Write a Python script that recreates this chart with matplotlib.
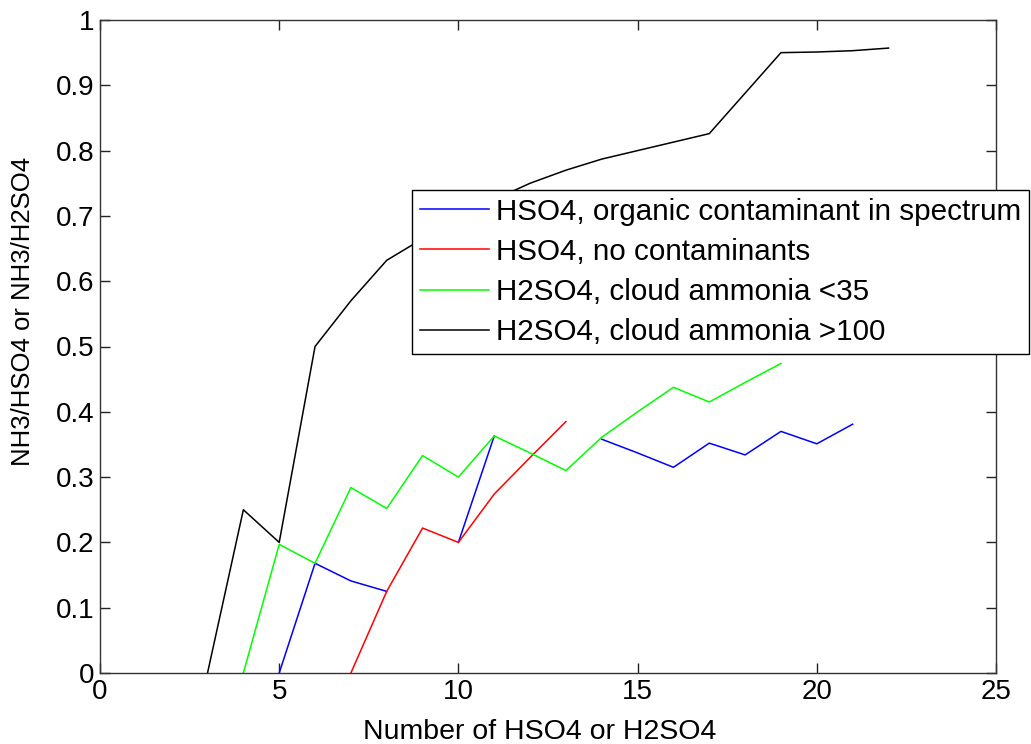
import numpy as np
import matplotlib
matplotlib.use('Agg')
import matplotlib.pyplot as plt

nan = np.nan

# data (nan where the line is hidden under another one)
x_blue = [5, 6, 7, 8, 9, 10, 11, 12, 13, 14, 15, 16, 17, 18, 19, 20, 21]
y_blue = [0, 0.168, 0.141, 0.125, nan, 0.20, 0.363, nan, nan, 0.358,
          0.337, 0.315, 0.352, 0.334, 0.37, 0.351, 0.381]

x_red = [7, 8, 9, 10, 11, 12, 13]
y_red = [0, 0.125, 0.222, 0.20, 0.274, 0.33, 0.385]

x_green = [4, 5, 6, 7, 8, 9, 10, 11, 12, 13, 14, 15, 16, 17, 18, 19]
y_green = [0, 0.197, 0.168, 0.284, 0.252, 0.333, 0.30, 0.363, 0.337, 0.31,
           0.361, 0.40, 0.4375, 0.415, 0.445, 0.474]

x_black = list(range(3, 23))
y_black = [0, 0.25, 0.20, 0.50, 0.57, 0.632, 0.665, 0.70, 0.725, 0.75, 0.77,
           0.787, 0.80, 0.813, 0.826, 0.888, 0.950, 0.951, 0.953, 0.957]

labels = ['HSO4, organic contaminant in spectrum',
          'HSO4, no contaminants',
          'H2SO4, cloud ammonia <35',
          'H2SO4, cloud ammonia >100']

plt.rcParams['font.family'] = ['Liberation Sans', 'DejaVu Sans']
fs = 20

fig = plt.figure(figsize=(10.31, 7.44), dpi=100)
ax = fig.add_axes([100/1031, 1 - 673/744, 896/1031, 653/744])

ax.plot(x_blue, y_blue, color=(0, 0, 1), lw=1.1, label=labels[0])
ax.plot(x_red, y_red, color=(1, 0, 0), lw=1.1, label=labels[1])
ax.plot(x_green, y_green, color=(0, 1, 0), lw=1.1, label=labels[2])
ax.plot(x_black, y_black, color=(0, 0, 0), lw=1.1, label=labels[3])

ax.set_xlim(0, 25)
ax.set_ylim(0, 1)
ax.set_xticks(np.arange(0, 26, 5))
ax.set_yticks(np.arange(0, 1.01, 0.1))
ax.set_yticklabels(['0', '0.1', '0.2', '0.3', '0.4', '0.5', '0.6', '0.7', '0.8', '0.9', '1'])
ax.tick_params(direction='in', top=True, right=True, length=7, width=1,
               labelsize=fs, colors='#222222', labelcolor='black', pad=4)
for s in ax.spines.values():
    s.set_color('#333333')
    s.set_linewidth(1)

ax.set_xlabel('Number of HSO4 or H2SO4', fontsize=20.5)
ax.xaxis.set_label_coords(0.491, -0.07)
ax.set_ylabel('NH3/HSO4 or NH3/H2SO4', fontsize=18.5)
ax.yaxis.set_label_coords(-0.072, 0.553)

leg = ax.legend(loc='upper left', bbox_to_anchor=(412/1031, 1 - 190/744),
                bbox_transform=fig.transFigure, fontsize=21.3, fancybox=False,
                framealpha=1, edgecolor='black', handlelength=2.35,
                handletextpad=0.24, borderpad=0.26, labelspacing=0.41,
                borderaxespad=0)
leg.get_frame().set_linewidth(1)

fig.savefig('out.png', dpi=100)
